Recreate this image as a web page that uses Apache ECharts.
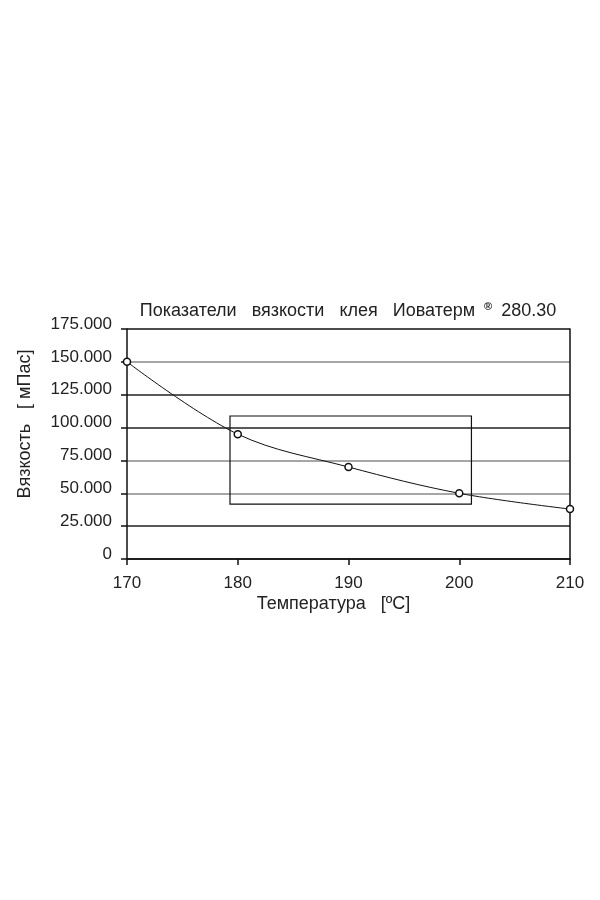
<!DOCTYPE html>
<html><head><meta charset="utf-8">
<script src="https://cdn.jsdelivr.net/npm/echarts@6/dist/echarts.min.js"></script>
<style>html,body{margin:0;padding:0;background:#fff}#c{width:600px;height:900px}</style>
</head><body><div id="c"></div>
<script>
const temperatures = [170, 180, 190, 200, 210];
const viscosity = [150000, 95000, 70000, 50000, 38000];
const yTicks = [0, 25000, 50000, 75000, 100000, 125000, 150000, 175000];
const boxX = [179.3, 201.1];
const boxY = [108800, 41800];
const titleMain = 'Показатели   вязкости   клея   Иоватерм';
const titleMark = '®';
const titleTail = '280.30';
const yName = 'Вязкость   [ мПас]';
const xName = 'Температура   [ºC]';

const font = 'Liberation Sans, Arial, sans-serif';
const chart = echarts.init(document.getElementById('c'), null, {renderer: 'canvas'});
chart.setOption({
  animation: false,
  backgroundColor: '#fff',
  title: {
    text: '{a|' + titleMain + ' }{s|' + titleMark + '}{a|' + titleTail + '}',
    left: 343, top: 296, textAlign: 'center',
    textStyle: {
      rich: {
        a: {fontFamily: font, fontSize: 18, color: '#222', fontWeight: 'normal'},
        s: {fontFamily: font, fontSize: 11, color: '#222', verticalAlign: 'top', padding: [0, 9, 10, 4]}
      }
    }
  },
  grid: {left: 127, right: 30, top: 329, bottom: 341},
  xAxis: {
    type: 'value', min: 170, max: 210, interval: 10,
    name: xName, nameLocation: 'middle', nameGap: 36,
    nameTextStyle: {fontFamily: font, fontSize: 18, color: '#222', padding: [0, 30, 0, 0]},
    axisLine: {show: true, lineStyle: {color: '#111', width: 1.5}},
    axisTick: {show: true, length: 6, lineStyle: {color: '#111', width: 1.5}},
    axisLabel: {fontFamily: font, fontSize: 17, color: '#222', margin: 16},
    splitLine: {show: false}
  },
  yAxis: [{
    type: 'value', min: 0, max: 175000, interval: 25000,
    name: yName, nameLocation: 'middle', nameGap: 93,
    nameTextStyle: {fontFamily: font, fontSize: 18, color: '#222', padding: [0, 0, 0, 40]},
    axisLine: {show: true, lineStyle: {color: '#111', width: 1.5}},
    axisTick: {show: true, length: 6, lineStyle: {color: '#111', width: 1.5}},
    axisLabel: {
      fontFamily: font, fontSize: 17, color: '#222', margin: 15,
      verticalAlign: 'bottom', lineHeight: 10,
      formatter: v => v === 0 ? '0' : (v / 1000).toFixed(0) + '.000'
    },
    splitLine: {show: true, lineStyle: {color: ['#111', '#222', '#888', '#888', '#222', '#222', '#888', '#111'], width: 1.5}}
  }, {
    type: 'value', min: 0, max: 175000, interval: 25000, position: 'right',
    axisLine: {show: true, lineStyle: {color: '#111', width: 1.5}},
    axisTick: {show: false}, axisLabel: {show: false}, splitLine: {show: false}
  }],
  series: [{
    type: 'line',
    data: temperatures.map((t, i) => [t, viscosity[i]]),
    smooth: 0.35,
    symbol: 'circle', symbolSize: 7,
    lineStyle: {color: '#111', width: 1},
    itemStyle: {color: '#fff', borderColor: '#111', borderWidth: 1.5},
    markArea: {
      silent: true,
      itemStyle: {color: 'rgba(0,0,0,0)', borderColor: '#111', borderWidth: 1.2},
      data: [[{coord: [boxX[0], boxY[0]]}, {coord: [boxX[1], boxY[1]]}]]
    },
    z: 5
  }]
});
</script></body></html>
